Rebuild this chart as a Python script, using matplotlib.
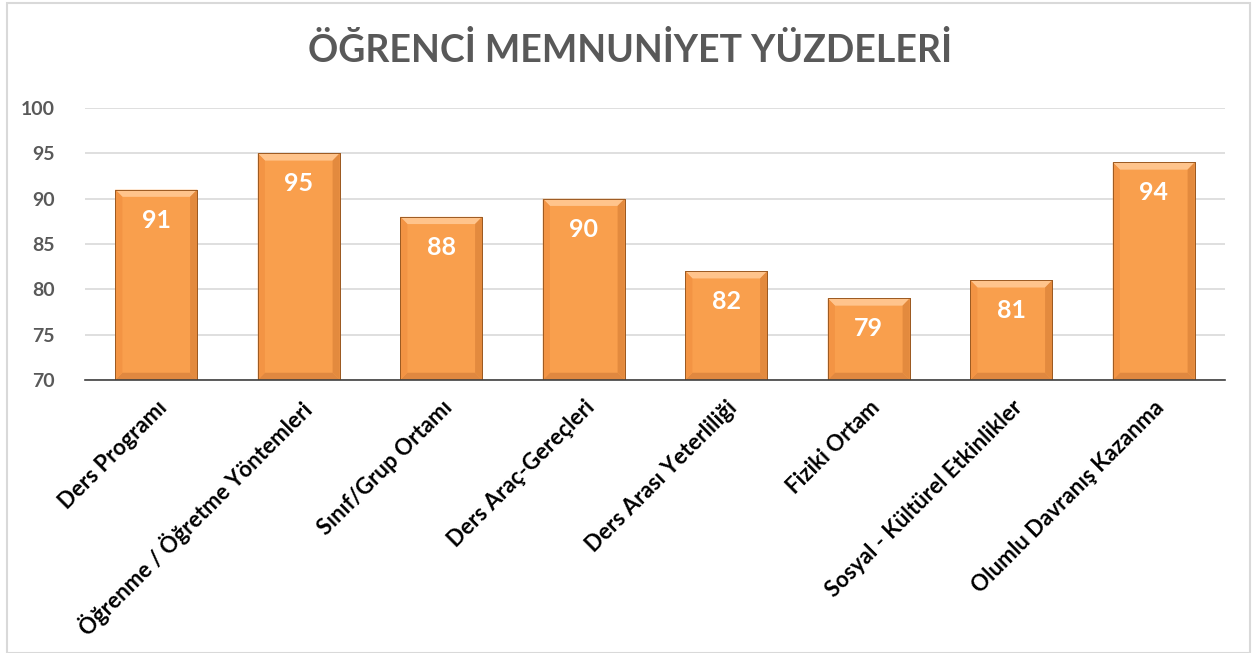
import matplotlib.pyplot as plt
import matplotlib.patches as mpatches
import numpy as np

plt.rcParams['font.family'] = ['Lato', 'DejaVu Sans']

# ── Data ─────────────────────────────────────────────────────────────────────
categories = ['Ders Programı', 'Öğrenme / Öğretme Yöntemleri', 'Sınıf/Grup Ortamı',
              'Ders Araç-Gereçleri', 'Ders Arası Yeterliliği', 'Fiziki Ortam',
              'Sosyal - Kültürel Etkinlikler', 'Olumlu Davranış Kazanma']
values = [91, 95, 88, 90, 82, 79, 81, 94]
y_ticks = [70, 75, 80, 85, 90, 95, 100]

BAR_COLOR = '#F99F4D'
EDGE_COLOR = '#9C5A22'
TEXT_GREY = '#595959'

fig = plt.figure(figsize=(12.53, 6.53), dpi=100)
ax = fig.add_axes([85 / 1253, 1 - 380 / 653, (1225 - 85) / 1253, (380 - 108) / 653])

x = np.arange(len(categories))
bars = ax.bar(x, values, width=0.575, bottom=0, color=BAR_COLOR,
              edgecolor=EDGE_COLOR, linewidth=0.7, zorder=3)

# bevel look: light top, shaded sides and bottom
ax.set_ylim(70, 100)
ax.set_xlim(-0.5, len(categories) - 0.5)
bx, by = 0.05, 0.8   # bevel depth in data units (~7 px)
for b in bars:
    x0, w, h = b.get_x(), b.get_width(), b.get_height()
    x1 = x0 + w
    faces = [
        ([(x0, h), (x1, h), (x1 - bx, h - by), (x0 + bx, h - by)], '#FFC48C'),
        ([(x0, 70), (x1, 70), (x1 - bx, 70 + by), (x0 + bx, 70 + by)], '#E08840'),
        ([(x0, h), (x0 + bx, h - by), (x0 + bx, 70 + by), (x0, 70)], '#F39444'),
        ([(x1, h), (x1 - bx, h - by), (x1 - bx, 70 + by), (x1, 70)], '#E38A3E'),
    ]
    for pts, col in faces:
        ax.add_patch(mpatches.Polygon(pts, closed=True, facecolor=col,
                                      edgecolor='none', zorder=4))
    ax.add_patch(mpatches.Rectangle((x0, 70), w, h - 70, fill=False,
                                    edgecolor=EDGE_COLOR, linewidth=0.7, zorder=5))

ax.set_yticks(y_ticks)
ax.set_xticks(x)
ax.set_xticklabels(categories, rotation=45, ha='right', rotation_mode='anchor',
                   fontsize=16, fontweight='bold', color='black')
ax.tick_params(axis='x', length=0, pad=12)
ax.tick_params(axis='y', length=0, pad=22, labelsize=14, labelcolor=TEXT_GREY)
for lbl in ax.get_yticklabels():
    lbl.set_fontweight('bold')

ax.grid(axis='y', color='#D9D9D9', linewidth=1.2, zorder=0)
for side in ['top', 'right', 'left']:
    ax.spines[side].set_visible(False)
ax.spines['bottom'].set_color('#404040')
ax.spines['bottom'].set_linewidth(1.2)
ax.spines['bottom'].set_zorder(6)

for xi, v in zip(x, values):
    ax.annotate(str(v), (xi, v), xytext=(0, -22), textcoords='offset points',
                ha='center', va='center', color='white', fontsize=18,
                fontweight='bold', zorder=7)

fig.text(630 / 1253, 1 - 50 / 653, 'ÖĞRENCİ MEMNUNİYET YÜZDELERİ',
         ha='center', va='center', fontsize=27, fontweight='bold', color=TEXT_GREY)

# thin frame around the chart
fig.add_artist(mpatches.Rectangle((7 / 1253, 0), 1243 / 1253, 1 - 3 / 653,
                                  transform=fig.transFigure, fill=False,
                                  edgecolor='#D9D9D9', linewidth=1.5))

fig.savefig('out.png', dpi=100)
